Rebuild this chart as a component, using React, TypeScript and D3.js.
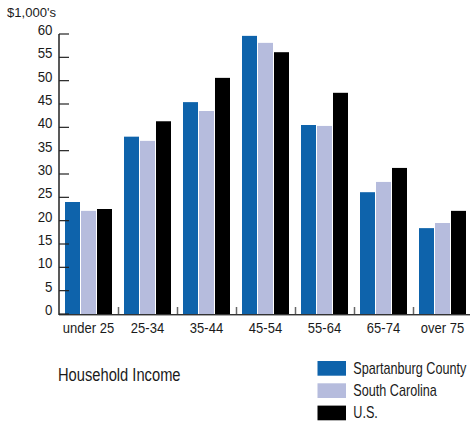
import React from "react";
import * as d3 from "d3";

const categories = ["under 25", "25-34", "35-44", "45-54", "55-64", "65-74", "over 75"];
const seriesNames = ["Spartanburg County", "South Carolina", "U.S."];
const spartanburg = [24.0, 38.0, 45.4, 59.6, 40.5, 26.1, 18.4];
const southCarolina = [22.1, 37.1, 43.5, 58.1, 40.3, 28.3, 19.5];
const us = [22.5, 41.3, 50.6, 56.1, 47.4, 31.3, 22.1];
const yTicks = [0, 5, 10, 15, 20, 25, 30, 35, 40, 45, 50, 55, 60];
const colors = ["#0e63ab", "#b6bcdd", "#000000"];

const FONT = "'Liberation Sans', Arial, sans-serif";

function T(props: { x: number; y: number; sx: number; size: number; anchor?: string; children: React.ReactNode }) {
  const { x, y, sx, size, anchor, children } = props;
  return (
    <text transform={`translate(${x},${y}) scale(${sx},1)`} fontSize={size} textAnchor={anchor || "start"} fill="#1a1a1a">
      {children}
    </text>
  );
}

export default function App() {
  const W = 470, H = 423;
  const left = 59, right = 472, top = 34, bottom = 314;
  const series = [spartanburg, southCarolina, us];
  const x = d3.scaleBand<string>().domain(categories).range([left, right]).paddingInner(0).paddingOuter(0);
  const y = d3.scaleLinear().domain([0, 60]).range([bottom, top]);
  const barW = 15, gap = 1;
  const groupW = barW * 3 + gap * 2;
  return (
    <svg width={W} height={H} style={{ position: "absolute", left: 0, top: 0, fontFamily: FONT }}>
      <rect x={0} y={0} width={W} height={H} fill="#fff" />
      {/* x axis */}
      <line x1={left} x2={W} y1={315} y2={315} stroke="#aaa" strokeWidth={2} />
      <line x1={left} x2={W} y1={314.5} y2={314.5} stroke="#333" strokeWidth={1} />
      {categories.slice(1).map((c) => (
        <line key={"xt" + c} x1={(x(c) as number) + 0.5} x2={(x(c) as number) + 0.5} y1={bottom - 7} y2={bottom} stroke="#666" strokeWidth={1.5} />
      ))}
      {/* bars */}
      {categories.map((c, i) => {
        const x0 = (x(c) as number) + (x.bandwidth() - groupW) / 2;
        return series.map((s, k) => (
          <rect key={c + k} x={x0 + k * (barW + gap)} y={y(s[i])} width={barW} height={y(0) - y(s[i])} fill={colors[k]} />
        ));
      })}
      {categories.map((c) => (
        <T key={"xl" + c} x={(x(c) as number) + x.bandwidth() / 2} y={333.3} sx={0.93} size={14} anchor="middle">{c}</T>
      ))}
      {/* y axis */}
      <line x1={left} x2={left} y1={top} y2={bottom + 1} stroke="#222" strokeWidth={1.5} />
      {yTicks.map((t) => (
        <g key={"yt" + t}>
          <line x1={left} x2={left + 10} y1={y(t)} y2={y(t)} stroke="#222" strokeWidth={1.2} />
          <T x={52.5} y={y(t) + 1} sx={0.95} size={14} anchor="end">{t}</T>
        </g>
      ))}
      <T x={7} y={17.3} sx={0.97} size={13.5}>$1,000's</T>
      <T x={58} y={380.5} sx={0.84} size={17.5}>Household Income</T>
      {/* legend */}
      {seriesNames.map((n, k) => (
        <g key={"lg" + n}>
          <rect x={317.5} y={361 + k * 22.3} width={28.5} height={14.7} fill={colors[k]} />
          <T x={353.3} y={374 + k * 22.2} sx={0.79} size={16}>{n}</T>
        </g>
      ))}
    </svg>
  );
}
